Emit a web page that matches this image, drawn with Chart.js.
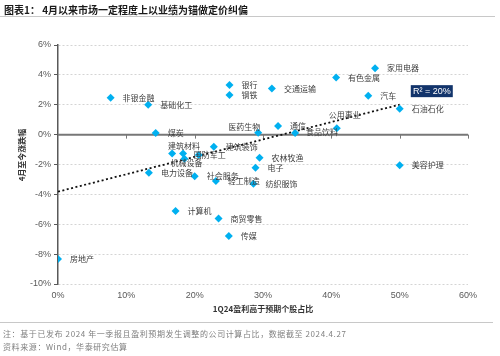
<!DOCTYPE html>
<html><head><meta charset="utf-8">
<script src="https://cdn.jsdelivr.net/npm/chart.js@4/dist/chart.umd.min.js"></script>
<style>
html,body{margin:0;padding:0;background:#fff;}
#wrap{position:relative;width:500px;height:356px;overflow:hidden;font-family:"Noto Sans CJK SC","Noto Sans",sans-serif;}
#title{position:absolute;left:4px;top:2px;font-size:10px;font-weight:bold;color:#1a1a1a;letter-spacing:0px;white-space:nowrap;line-height:16px;}
#tline{position:absolute;left:0;top:16px;width:495px;height:1px;background:#C8C8C8;}
#fline{position:absolute;left:0;top:322px;width:493px;height:1px;background:#C8C8C8;}
.note{position:absolute;left:3px;font-size:8px;color:#808080;letter-spacing:0.6px;white-space:nowrap;line-height:12px;}
#n1{top:328px;}
#n2{top:341px;}
canvas{position:absolute;left:0;top:0;}
</style>
</head><body>
<div id="wrap">
<canvas id="c" width="500" height="356"></canvas>
<div id="title">图表1：&nbsp;4月以来市场一定程度上以业绩为锚做定价纠偏</div>
<div id="tline"></div>
<div id="fline"></div>
<div class="note" id="n1">注：基于已发布 2024 年一季报且盈利预期发生调整的公司计算占比，数据截至 2024.4.27</div>
<div class="note" id="n2">资料来源：Wind，华泰研究估算</div>
</div>
<script>
// ---- data ----
const categories = ['非银金融','基础化工','银行','钢铁','煤炭','医药生物','建筑材料','','机械设备','国防军工','建筑装饰','电力设备','社会服务','轻工制造','纺织服饰','农林牧渔','电子','计算机','商贸零售','传媒','房地产','家用电器','有色金属','交通运输','汽车','石油石化','通信','食品饮料','公用事业','美容护理'];
const xValues = [7.7,13.2,25.1,25.1,14.3,29.3,16.7,18.3,18.5,20.6,22.8,13.3,20.0,23.1,28.6,29.5,28.9,17.2,23.5,25.0,0.0,46.4,40.7,31.3,45.4,50.0,32.2,34.7,40.8,50.0];
const yValues = [2.47,2.0,3.33,2.65,0.11,0.13,-1.27,-1.27,-1.62,-1.37,-0.82,-2.55,-2.78,-3.11,-3.29,-1.55,-2.22,-5.11,-5.62,-6.78,-8.33,4.45,3.82,3.09,2.6,1.73,0.58,0.11,0.42,-2.05];
const xTicks = [0,10,20,30,40,50,60];
const yTicks = [-10,-8,-6,-4,-2,0,2,4,6];
const xTitle = '1Q24盈利高于预期个股占比';
const yTitle = '4月至今涨跌幅';
const r2Text = 'R² = 20%';

// ---- linear trend (least squares from the data) ----
const n = xValues.length;
const mx = xValues.reduce((a,b)=>a+b,0)/n;
const my = yValues.reduce((a,b)=>a+b,0)/n;
let sxy=0,sxx=0;
for(let i=0;i<n;i++){sxy+=(xValues[i]-mx)*(yValues[i]-my);sxx+=(xValues[i]-mx)**2;}
const slope = sxy/sxx, icpt = my-slope*mx;
const xMin = Math.min(...xValues), xMax = Math.max(...xValues);
const trend = [{x:xMin,y:icpt+slope*xMin},{x:xMax,y:icpt+slope*xMax}];

// label placement (style only)
const labelPlace = {
  '医药生物':{dx:-14,dy:-6,align:'center'},
  '公用事业':{dx:8,dy:-13,align:'center'},
  '建筑材料':{dx:12,dy:-8,align:'center'},
  '机械设备':{dx:2,dy:4,align:'center'},
  '国防军工':{dx:-5,dy:0,align:'left'},
  '食品饮料':{dx:11,dy:-1.5,align:'left'}
};

const deco = {
  id:'deco',
  beforeDatasetsDraw(chart){
    const {ctx, chartArea:a, scales:{x,y}} = chart;
    const y0 = y.getPixelForValue(0);
    ctx.save();
    ctx.strokeStyle = '#777';
    ctx.lineWidth = 2;
    ctx.beginPath(); ctx.moveTo(a.left, y0); ctx.lineTo(a.right, y0); ctx.stroke();
    ctx.lineWidth = 1;
    xTicks.forEach(v=>{ if(v===0) return; const px = Math.round(x.getPixelForValue(v))+0.5;
      ctx.beginPath(); ctx.moveTo(px,y0); ctx.lineTo(px,y0+4); ctx.stroke(); });
    ctx.restore();
  },
  afterDatasetsDraw(chart){
    const {ctx, chartArea:a, scales:{x,y}} = chart;
    const meta = chart.getDatasetMeta(0);
    ctx.save();
    ctx.font = '8px "Noto Sans CJK SC"';
    ctx.fillStyle = '#404040';
    ctx.textBaseline = 'middle';
    meta.data.forEach((pt,i)=>{
      const name = categories[i]; if(!name) return;
      const p = labelPlace[name] || {dx:12,dy:0,align:'left'};
      ctx.textAlign = p.align;
      ctx.fillText(name, pt.x+p.dx, pt.y+p.dy);
    });
    // R2 box
    const bx = x.getPixelForValue(54.7), by = y.getPixelForValue(2.91);
    ctx.fillStyle = '#12346B';
    ctx.fillRect(bx-21, by-6, 42, 12);
    ctx.fillStyle = '#fff';
    ctx.font = '9px "Liberation Sans"';
    ctx.textAlign = 'center';
    ctx.fillText(r2Text, bx, by+0.5);
    // axis titles
    ctx.fillStyle = '#333';
    ctx.font = 'bold 8px "Noto Sans CJK SC"';
    ctx.textAlign = 'center';
    ctx.fillText(xTitle, (a.left+a.right)/2, a.bottom+25);
    ctx.translate(a.left-36, a.top+110);
    ctx.rotate(-Math.PI/2);
    ctx.fillText(yTitle, 0, 0);
    ctx.restore();
  }
};

new Chart(document.getElementById('c'), {
  type:'scatter',
  data:{datasets:[
    {label:'行业', data: categories.map((c,i)=>({x:xValues[i], y:yValues[i]})),
     pointStyle:'rectRot', pointRadius:4, pointHoverRadius:4,
     backgroundColor:'#00B0F0', borderColor:'#00B0F0', borderWidth:0, order:0},
    {type:'line', label:'趋势', data: trend, borderColor:'#111', borderWidth:1.8,
     borderDash:[2,2.5], pointRadius:0, fill:false, order:1}
  ]},
  options:{
    responsive:false, animation:false, devicePixelRatio:1,
    layout:{padding:{top:45,right:32,left:0,bottom:0}},
    plugins:{legend:{display:false}, tooltip:{enabled:false}},
    scales:{
      x:{type:'linear', min:0, max:60,
        afterBuildTicks:s=>{s.ticks = xTicks.map(v=>({value:v}));},
        grid:{display:false, drawTicks:false},
        border:{display:false},
        ticks:{padding:6, font:{family:'Liberation Sans', size:9}, color:'#595959', callback:v=>v+'%'},
        afterFit:s=>{s.height=72;}
      },
      y:{type:'linear', min:-10, max:6,
        afterBuildTicks:s=>{s.ticks = yTicks.map(v=>({value:v}));},
        grid:{color:c=> (c.tick && c.tick.value===0) ? 'rgba(0,0,0,0)' : '#D4D4D4', tickColor:'#595959', tickLength:4, lineWidth:1},
        border:{display:true, color:'#595959', width:1.5, dash:[2,2]},
        ticks:{padding:3, font:{family:'Liberation Sans', size:9}, color:'#595959', callback:v=>v+'%'},
        afterFit:s=>{s.width=58;}
      }
    }
  },
  plugins:[deco]
});
</script>
</body></html>
